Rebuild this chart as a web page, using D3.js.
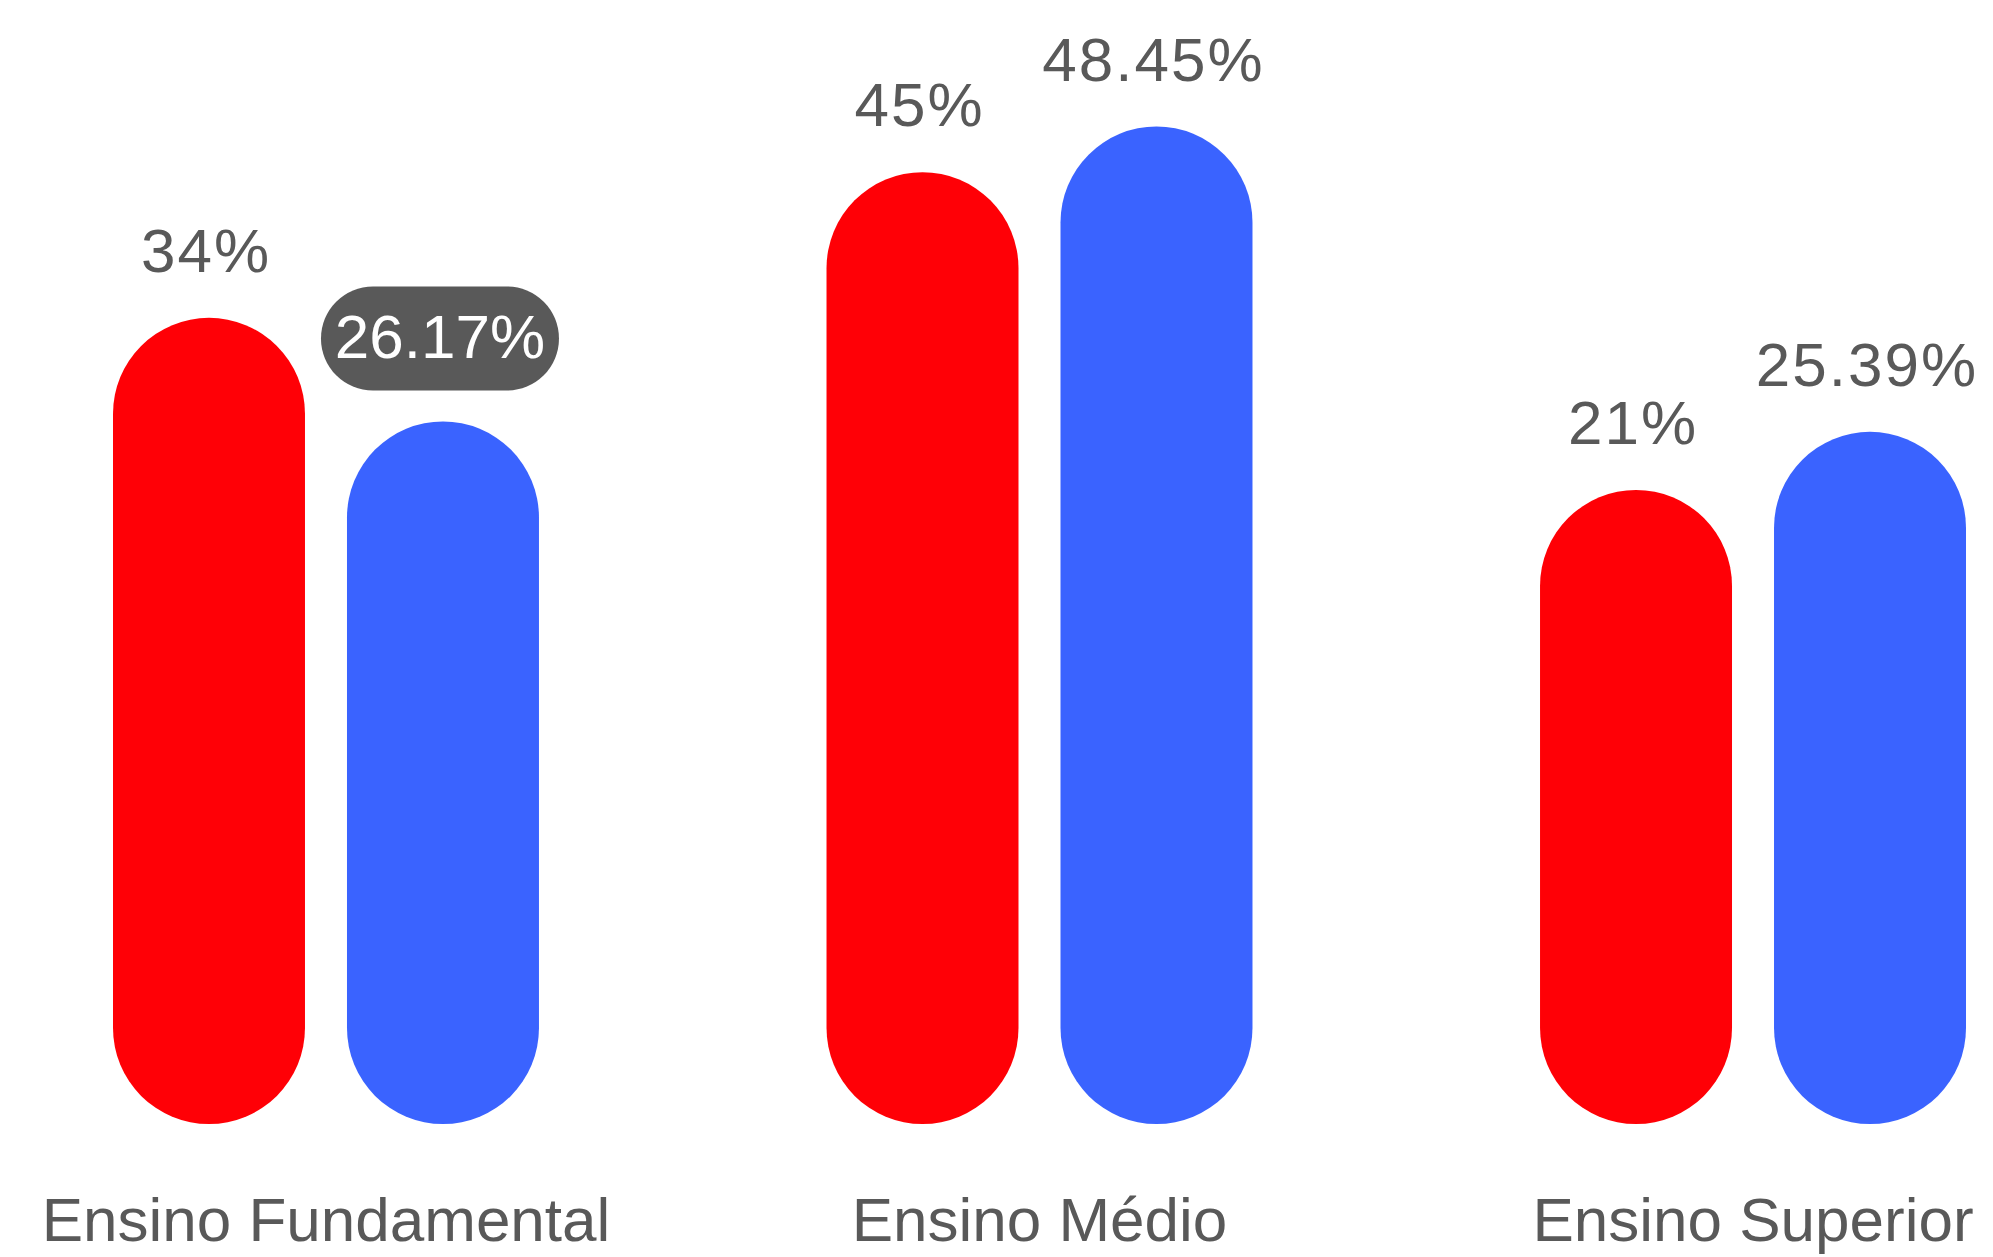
<!DOCTYPE html>
<html>
<head>
<meta charset="utf-8">
<script src="https://cdn.jsdelivr.net/npm/d3@7"></script>
<style>
  html, body { margin: 0; padding: 0; background: #ffffff; }
  svg { display: block; }
  text { font-family: "Liberation Sans", Arial, sans-serif; }
</style>
</head>
<body>
<svg id="chart" width="1993" height="1257"></svg>
<script>
// Education level categories and the two series shown per category
const categories = ["Ensino Fundamental", "Ensino Médio", "Ensino Superior"];
const seriesNames = ["A", "B"];
const seriesA = [34, 45, 21];
const seriesB = [26.17, 48.45, 25.39];
// Which value is shown with the dark callout badge: [category index, series index]
const highlighted = [0, 1];

const colors = { A: "#ff0006", B: "#3a63ff" };
const textColor = "#595959";

const W = 1993, H = 1257;
const baseY = 1124;           // bottom of every bar
const svg = d3.select("#chart");

const rows = categories.map((c, i) => ({
  category: c,
  values: [
    { key: "A", value: seriesA[i], ci: i, si: 0 },
    { key: "B", value: seriesB[i], ci: i, si: 1 }
  ]
}));

// Group positions
const x0 = d3.scaleBand()
  .domain(categories)
  .range([113, 1966])
  .paddingInner(0.403)
  .paddingOuter(0);

// Bar positions inside a group
const x1 = d3.scaleBand()
  .domain(seriesNames)
  .range([0, x0.bandwidth()])
  .paddingInner(0.1795)
  .paddingOuter(0);

// Bar length from value (bars start with a stem so small values stay pill shaped)
const len = d3.scaleLinear().domain([0, 50]).range([356, 1018]);

const bw = x1.bandwidth();
const fmt = v => `${v}%`;

const groups = svg.selectAll("g.group")
  .data(rows)
  .join("g")
  .attr("class", "group")
  .attr("transform", d => `translate(${x0(d.category)},0)`);

groups.selectAll("rect.bar")
  .data(d => d.values)
  .join("rect")
  .attr("class", "bar")
  .attr("x", d => x1(d.key))
  .attr("y", d => baseY - len(d.value))
  .attr("width", bw)
  .attr("height", d => len(d.value))
  .attr("rx", bw / 2)
  .attr("ry", bw / 2)
  .attr("fill", d => colors[d.key]);

const isHi = d => d.ci === highlighted[0] && d.si === highlighted[1];

// Callout badge behind the highlighted value
groups.selectAll("rect.badge")
  .data(d => d.values.filter(isHi))
  .join("rect")
  .attr("class", "badge")
  .attr("x", d => x1(d.key) + bw / 2 - 3 - 119)
  .attr("y", d => baseY - len(d.value) - 83 - 52)
  .attr("width", 238)
  .attr("height", 104)
  .attr("rx", 52)
  .attr("ry", 52)
  .attr("fill", "#595959");

// Value labels above the bars
groups.selectAll("text.value")
  .data(d => d.values)
  .join("text")
  .attr("class", "value")
  .attr("x", d => x1(d.key) + bw / 2 - 3)
  .attr("y", d => isHi(d) ? baseY - len(d.value) - 64 : baseY - len(d.value) - 46)
  .attr("text-anchor", "middle")
  .attr("font-size", 62)
  .attr("letter-spacing", d => isHi(d) ? 0 : 2)
  .attr("fill", d => isHi(d) ? "#ffffff" : textColor)
  .text(d => fmt(d.value));

// Category labels along the bottom
svg.selectAll("text.category")
  .data(categories)
  .join("text")
  .attr("class", "category")
  .attr("x", d => x0(d) + x0.bandwidth() / 2)
  .attr("y", 1241)
  .attr("text-anchor", "middle")
  .attr("font-size", 62)
  .attr("fill", textColor)
  .text(d => d);
</script>
</body>
</html>
